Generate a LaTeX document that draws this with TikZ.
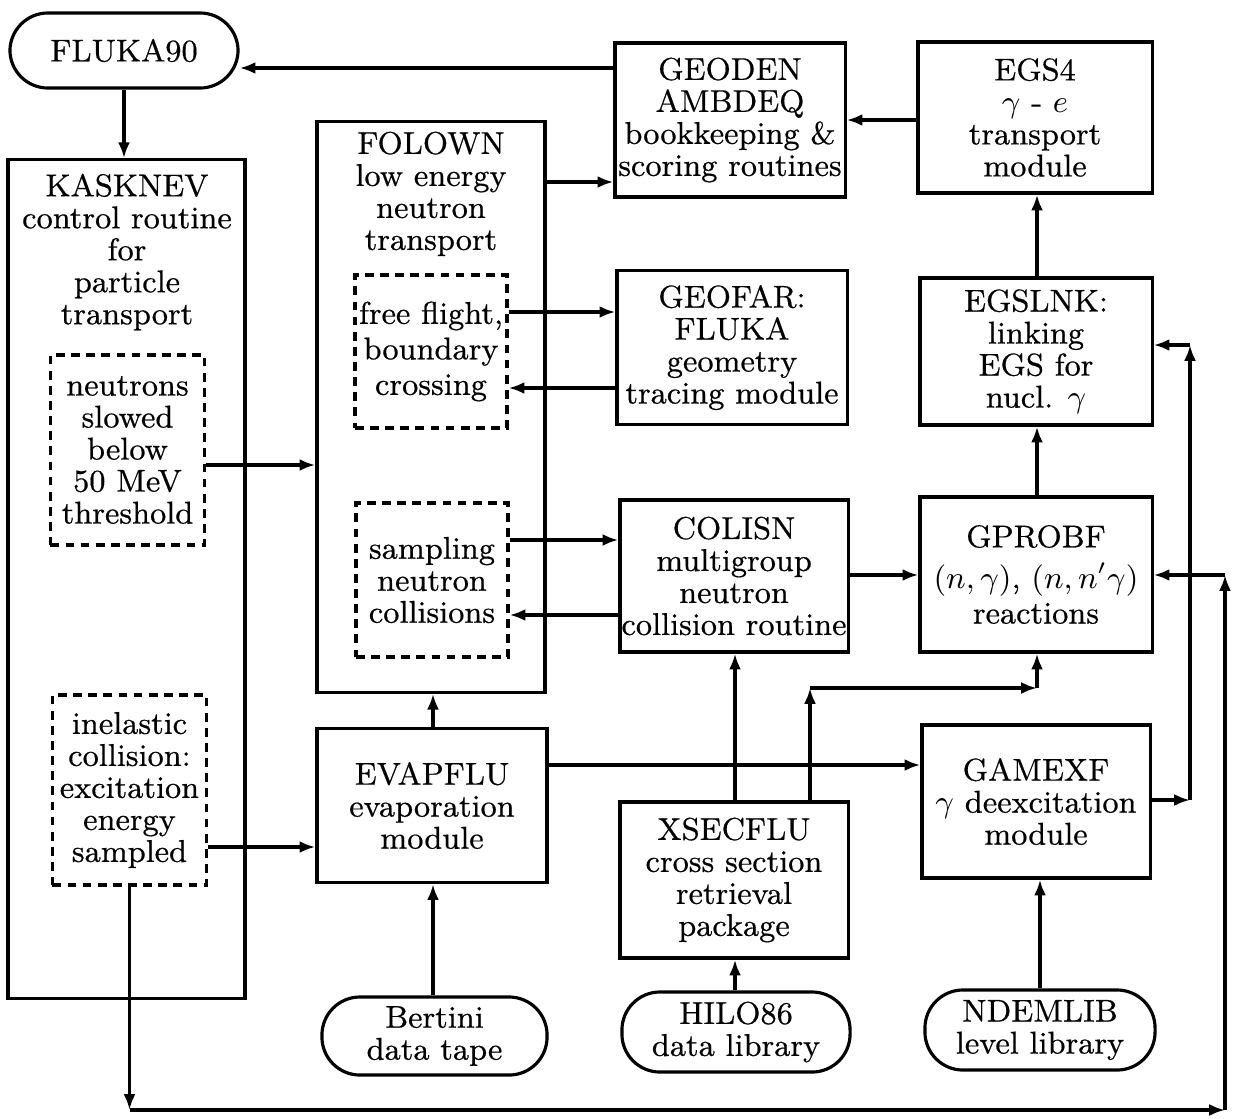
\documentclass[tikz,border=0pt]{standalone}
\usepackage{fontspec}
\setmainfont{Latin Modern Roman}[FakeBold=0.5]
\usetikzlibrary{arrows.meta}
\begin{document}
\begin{tikzpicture}[x=0.01cm,y=-0.01cm,>={Latex[length=4.5pt,width=3.4pt]},
  every node/.style={font=\fontsize{8.95}{9.1}\selectfont,align=center,inner sep=0pt},
  box/.style={draw,line width=0.9pt,minimum width=2.3cm,minimum height=1.54cm},
  dbox/.style={draw,line width=0.9pt,dash pattern=on 2.5pt off 1.8pt,minimum width=1.54cm},
  tape/.style={draw,line width=0.9pt,rounded corners=0.38cm,minimum width=2.28cm,minimum height=0.79cm},
  link/.style={line width=0.9pt,->}]
  \useasboundingbox (0,0) rectangle (1234,1118);

  \node[tape,minimum height=0.75cm] (fluka) at (124,50.5) {FLUKA90};
  \node[box,minimum width=2.37cm,minimum height=8.38cm] (kasknev) at (126.5,579) {};
  \node[anchor=north] (kasknevtxt) at (127,173) {KASKNEV\\control routine\\for\\particle\\transport};
  \node[dbox,minimum height=1.9cm] (neutr) at (127.5,450) {neutrons\\slowed\\below\\50 MeV\\threshold};
  \node[dbox,minimum height=1.9cm] (inel) at (129.5,790) {inelastic\\collision:\\excitation\\energy\\sampled};

  \node[box,minimum width=2.28cm,minimum height=5.7cm] (folown) at (431,407) {};
  \node[anchor=north] (folowntxt) at (431,131) {FOLOWN\\low energy\\neutron\\transport};
  \node[dbox,minimum width=1.52cm,minimum height=1.53cm] (flight) at (431,351.5) {free flight,\\[1pt]boundary\\[1pt]crossing};
  \node[dbox,minimum width=1.52cm,minimum height=1.54cm] (sampl) at (432,580) {sampling\\neutron\\collisions};
  \node[box] (evapflu) at (432,805.5) {EVAPFLU\\evaporation\\module};
  \node[tape,minimum width=2.25cm,minimum height=0.78cm] (bertini) at (434.5,1036) {Bertini\\data tape};

  \node[box] (geoden) at (730,120) {GEODEN\\AMBDEQ\\bookkeeping \&\\scoring routines};
  \node[box] (geofar) at (732,347.5) {GEOFAR:\\FLUKA\\geometry\\tracing module};
  \node[box,minimum width=2.28cm,minimum height=1.52cm] (colisn) at (734,576) {COLISN\\multigroup\\neutron\\collision routine};
  \node[box,minimum width=2.28cm,minimum height=1.56cm] (xsecflu) at (734,880) {XSECFLU\\cross section\\retrieval\\package};
  \node[tape,minimum height=0.8cm] (hilo) at (736,1032) {HILO86\\data library};

  \node[box,minimum width=2.34cm,minimum height=1.51cm] (egsfour) at (1035,117.5) {EGS4\\$\gamma$ - $e$\\transport\\module};
  \node[box,minimum width=2.32cm,minimum height=1.47cm] (egslnk) at (1036,351.5) {EGSLNK:\\linking\\EGS for\\nucl. $\gamma$};
  \node[box,minimum width=2.32cm,minimum height=1.55cm] (gprobf) at (1036,574.5) {GPROBF\\[2.5pt]$(n,\gamma)$,\ $(n,n'\gamma)$\\[1pt]reactions};
  \node[box,minimum width=2.28cm,minimum height=1.53cm] (gamexf) at (1036,801.5) {GAMEXF\\$\gamma$ deexcitation\\module};
  \node[tape,minimum width=2.3cm,minimum height=0.8cm] (ndemlib) at (1040,1030) {NDEMLIB\\level library};

  \coordinate (xa) at (810,688);
  \coordinate (xb) at (1037,688);
  \coordinate (gx) at (1190,800);
  \coordinate (gy) at (1190,345);
  \coordinate (bx) at (inel.south |- 0,1110);
  \coordinate (by) at (1225,1110);
  \coordinate (bz) at (1225,575);

  \draw[link] (geoden.west |- 0,68) -- (fluka.east |- 0,68);
  \draw[link] (fluka.south) -- (fluka.south |- kasknev.north);
  \draw[link] (egsfour.west |- 0,120) -- (geoden.east |- 0,120);
  \draw[link] (folown.east |- 0,182) -- (geoden.west |- 0,182);
  \draw[link] (flight.east |- 0,312) -- (geofar.west |- 0,312);
  \draw[link] (geofar.west |- 0,388) -- (flight.east |- 0,388);
  \draw[link] (neutr.east |- 0,465) -- (folown.west |- 0,465);
  \draw[link] (sampl.east |- 0,540) -- (colisn.west |- 0,540);
  \draw[link] (colisn.west |- 0,615) -- (sampl.east |- 0,615);
  \draw[link] (colisn.east |- 0,575) -- (gprobf.west |- 0,575);
  \draw[link] (gprobf.north -| 1037,0) -- (egslnk.south -| 1037,0);
  \draw[link] (egslnk.north -| 1037,0) -- (egsfour.south -| 1037,0);
  \draw[link] (evapflu.north -| 433,0) -- (folown.south -| 433,0);
  \draw[link] (inel.east |- 0,847) -- (evapflu.west |- 0,847);
  \draw[link] (evapflu.east |- 0,765) -- (gamexf.west |- 0,765);
  \draw[link] (xsecflu.north -| 735,0) -- (colisn.south -| 735,0);
  \draw[link] (hilo.north -| 735,0) -- (xsecflu.south -| 735,0);
  \draw[link] (bertini.north -| 433,0) -- (evapflu.south -| 433,0);
  \draw[link] (ndemlib.north) -- (ndemlib.north |- gamexf.south);

  \draw[link] (xsecflu.north -| xa) -- (xa);
  \draw[link] (xa) -- (xb);
  \draw[link] (xb) -- (gprobf.south -| xb);

  \draw[link] (gamexf.east |- gx) -- (gx);
  \draw[link] (gx) -- (gy);
  \draw[link] (gy) -- (egslnk.east |- gy);

  \draw[link] (inel.south) -- (bx);
  \draw[link] (bx) -- (by);
  \draw[link] (by) -- (bz);
  \draw[link] (bz) -- (gprobf.east |- bz);
\end{tikzpicture}
\end{document}
